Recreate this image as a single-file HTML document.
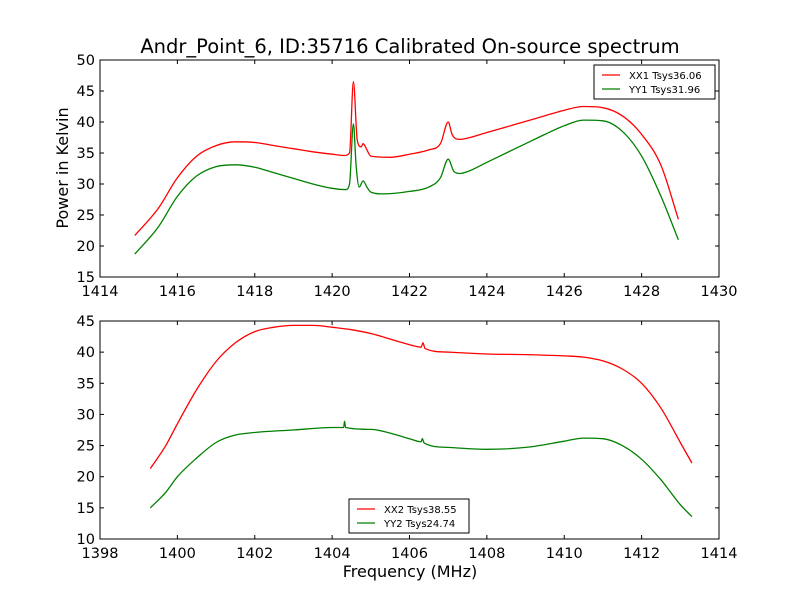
<!DOCTYPE html>
<html><head><meta charset="utf-8"><style>
body{margin:0;background:#fff;}
svg text{font-family:"DejaVu Sans","Liberation Sans",sans-serif;}
</style></head><body>
<svg id="c" width="800" height="600" xmlns="http://www.w3.org/2000/svg">
<rect width="800" height="600" fill="#fff"/>
<text x="410" y="53" font-size="19.5" text-anchor="middle">Andr_Point_6, ID:35716 Calibrated On-source spectrum</text>
<text x="410" y="577" font-size="16" text-anchor="middle">Frequency (MHz)</text>
<text transform="translate(68,168) rotate(-90)" font-size="16" text-anchor="middle">Power in Kelvin</text>
<g id="g"></g>
</svg>
<script>
const xx1F=[1414.9,1415.5,1416,1416.5,1417,1417.5,1418,1418.5,1419,1419.5,1420,1420.3,1420.45,1420.55,1420.65,1420.75,1420.8,1420.9,1421,1421.5,1422,1422.5,1422.8,1423,1423.1,1423.3,1423.5,1424,1424.5,1425,1425.5,1426,1426.5,1427,1427.5,1428,1428.5,1428.95];
const xx1V=[21.7,26,31,34.5,36.2,36.8,36.7,36.2,35.7,35.2,34.8,34.6,35,46.5,37,36,36.5,35.5,34.5,34.3,34.8,35.5,36.5,40,38,37.2,37.4,38.3,39.2,40.1,41,41.9,42.5,42.3,41,38,33,24.3];
const yy1F=[1414.9,1415.5,1416,1416.5,1417,1417.5,1418,1418.5,1419,1419.5,1420,1420.35,1420.45,1420.55,1420.62,1420.7,1420.8,1420.9,1421,1421.3,1422,1422.5,1422.8,1423,1423.15,1423.3,1423.5,1424,1424.5,1425,1425.5,1426,1426.5,1427,1427.5,1428,1428.5,1428.95];
const yy1V=[18.7,23,28,31.3,32.8,33.1,32.7,31.8,30.9,30,29.3,29.1,30,39.7,33,29.5,30.5,29.5,28.7,28.4,28.8,29.5,31,34,32,31.7,32,33.5,35,36.5,38,39.4,40.3,40.2,38.5,34.5,28,21];
const xx2F=[1399.3,1399.7,1400,1400.5,1401,1401.5,1402,1402.5,1403,1403.5,1404,1404.5,1405,1405.5,1406,1406.3,1406.35,1406.4,1407,1408,1409,1410,1410.5,1411,1411.5,1412,1412.5,1413,1413.3];
const xx2V=[21.3,25,28.5,34,38.5,41.5,43.3,44,44.3,44.3,44,43.6,43,42.1,41.2,40.8,41.5,40.6,40,39.7,39.6,39.4,39.2,38.6,37.3,35,31,25.5,22.2];
const yy2F=[1399.3,1399.7,1400,1400.5,1401,1401.5,1402,1403,1404,1404.3,1404.32,1404.35,1405,1405.5,1406,1406.3,1406.33,1406.38,1407,1408,1409,1410,1410.5,1411,1411.5,1412,1412.5,1413,1413.3];
const yy2V=[15,17.5,20,23,25.5,26.7,27.1,27.5,27.9,27.9,28.9,27.9,27.6,27,26.1,25.6,26.1,25.4,24.7,24.4,24.7,25.7,26.2,26.1,25,22.8,19.5,15.5,13.6];
const topXTicks=[1414,1416,1418,1420,1422,1424,1426,1428,1430];
const topYTicks=[15,20,25,30,35,40,45,50];
const botXTicks=[1398,1400,1402,1404,1406,1408,1410,1412,1414];
const botYTicks=[10,15,20,25,30,35,40,45];
const NS="http://www.w3.org/2000/svg";
const g=document.getElementById('g');
function mk(t,a){const e=document.createElementNS(NS,t);for(const k in a)e.setAttribute(k,a[k]);g.appendChild(e);return e;}
function monoPath(X,Y){
 const n=X.length,d=[],m=new Array(n);
 for(let i=0;i<n-1;i++)d.push((Y[i+1]-Y[i])/(X[i+1]-X[i]));
 m[0]=d[0];m[n-1]=d[n-2];
 for(let i=1;i<n-1;i++){m[i]=(d[i-1]*d[i]<=0)?0:(d[i-1]+d[i])/2;}
 for(let i=0;i<n-1;i++){if(d[i]===0){m[i]=0;m[i+1]=0;continue;}const a=m[i]/d[i],b=m[i+1]/d[i],s=a*a+b*b;if(s>9){const t=3/Math.sqrt(s);m[i]=t*a*d[i];m[i+1]=t*b*d[i];}}
 let p='M'+X[0].toFixed(1)+','+Y[0].toFixed(1);
 for(let i=0;i<n-1;i++){const h=(X[i+1]-X[i])/3;
  p+=' C'+(X[i]+h).toFixed(1)+','+(Y[i]+m[i]*h).toFixed(1)+' '+(X[i+1]-h).toFixed(1)+','+(Y[i+1]-m[i+1]*h).toFixed(1)+' '+X[i+1].toFixed(1)+','+Y[i+1].toFixed(1);}
 return p;}
function panel(name,L,T,R,B,x0,x1,y0,y1,xt,yt,series,leg){
 const sx=v=>L+(v-x0)/(x1-x0)*(R-L), sy=v=>B-(v-y0)/(y1-y0)*(B-T);
 series.forEach(s=>{
  const p=mk('path',{d:monoPath(s.f.map(sx),s.v.map(sy)),fill:'none',stroke:s.c,'stroke-width':1.3});
  
  
 });
 const fr=mk('rect',{x:L,y:T,width:R-L,height:B-T,fill:'none',stroke:'#000','stroke-width':1});
 
 
 xt.forEach(v=>{const x=sx(v);mk('line',{x1:x,x2:x,y1:B,y2:B-4,stroke:'#000'});mk('line',{x1:x,x2:x,y1:T,y2:T+4,stroke:'#000'});
  const t=mk('text',{x:x,y:B+19,'font-size':14.5,'text-anchor':'middle'});t.textContent=v;
  
  });
 yt.forEach(v=>{const y=sy(v);mk('line',{x1:L,x2:L+4,y1:y,y2:y,stroke:'#000'});mk('line',{x1:R,x2:R-4,y1:y,y2:y,stroke:'#000'});
  const t=mk('text',{x:L-5,y:y+5,'font-size':14.5,'text-anchor':'end'});t.textContent=v;
  
  });
 const lb=mk('rect',{x:leg[0],y:leg[1],width:leg[2],height:34,fill:'#fff',stroke:'#000'});
 
 
 series.forEach((s,i)=>{const y=leg[1]+10+i*14;
  mk('line',{x1:leg[0]+8,x2:leg[0]+26,y1:y,y2:y,stroke:s.c,'stroke-width':1.3});
  const t=mk('text',{x:leg[0]+35,y:y+4,'font-size':10});t.textContent=s.l;
  
  });
}
panel('top-plot',100,60,719,277,1414,1430,15,50,topXTicks,topYTicks,
 [{f:xx1F,v:xx1V,c:'#ff0000',n:'xx1-line',l:'XX1 Tsys36.06'},{f:yy1F,v:yy1V,c:'#008000',n:'yy1-line',l:'YY1 Tsys31.96'}],[594,65,121]);
panel('bottom-plot',100,321,719,539,1398,1414,10,45,botXTicks,botYTicks,
 [{f:xx2F,v:xx2V,c:'#ff0000',n:'xx2-line',l:'XX2 Tsys38.55'},{f:yy2F,v:yy2V,c:'#008000',n:'yy2-line',l:'YY2 Tsys24.74'}],[349,499,120]);
</script>
</body></html>
